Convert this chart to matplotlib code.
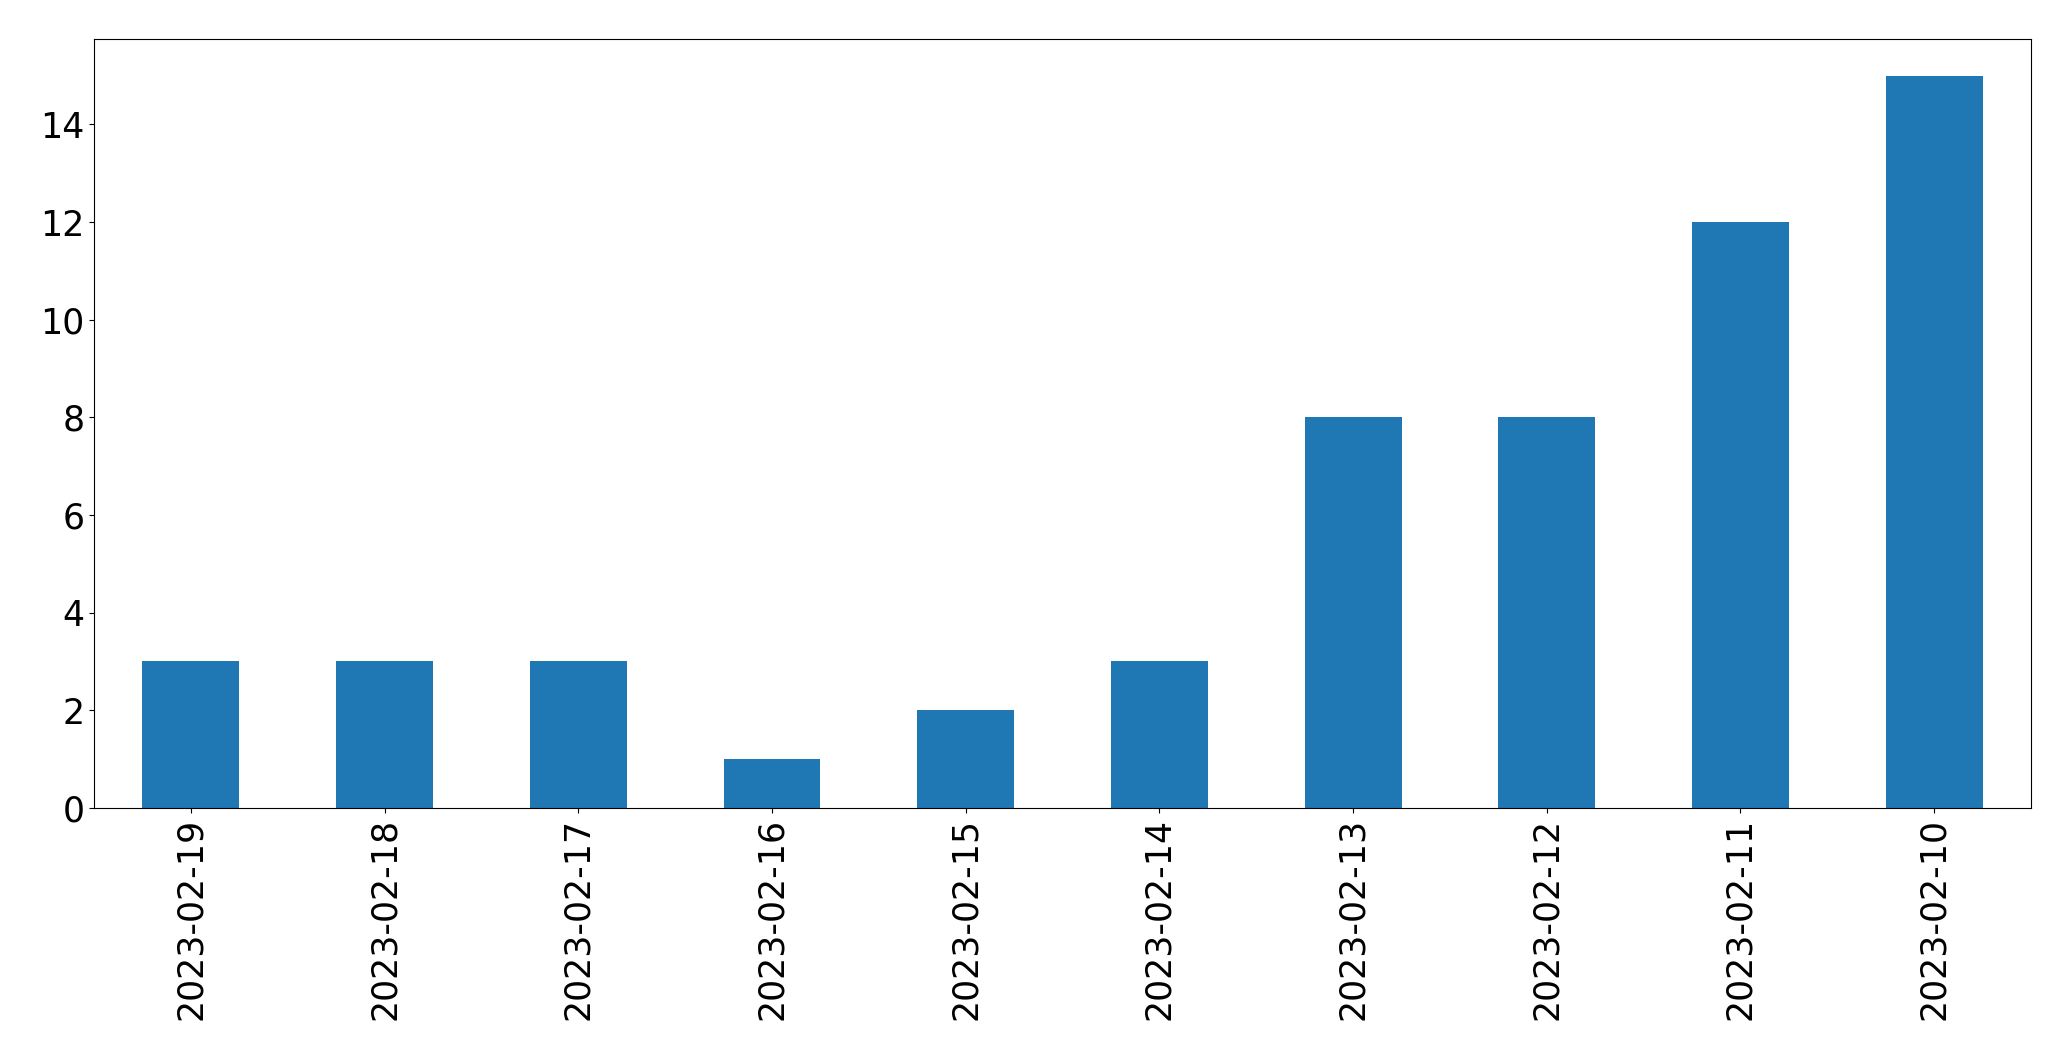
import matplotlib
matplotlib.use("Agg")
import matplotlib.pyplot as plt

dates = ["2023-02-19", "2023-02-18", "2023-02-17", "2023-02-16", "2023-02-15",
         "2023-02-14", "2023-02-13", "2023-02-12", "2023-02-11", "2023-02-10"]
counts = [3, 3, 3, 1, 2, 3, 8, 8, 12, 15]

fig, ax = plt.subplots(figsize=(20.71, 10.61), dpi=100)
pos = range(len(dates))
ax.bar(pos, counts, width=0.5, color="#1f77b4")
ax.set_xlim(-0.5, len(dates) - 0.5)
ax.set_xticks(list(pos))
ax.set_xticklabels(dates, rotation=90)
ax.tick_params(labelsize=25)
fig.subplots_adjust(left=0.0454, right=0.9807, top=0.9633, bottom=0.2385)
fig.savefig("out.png")
